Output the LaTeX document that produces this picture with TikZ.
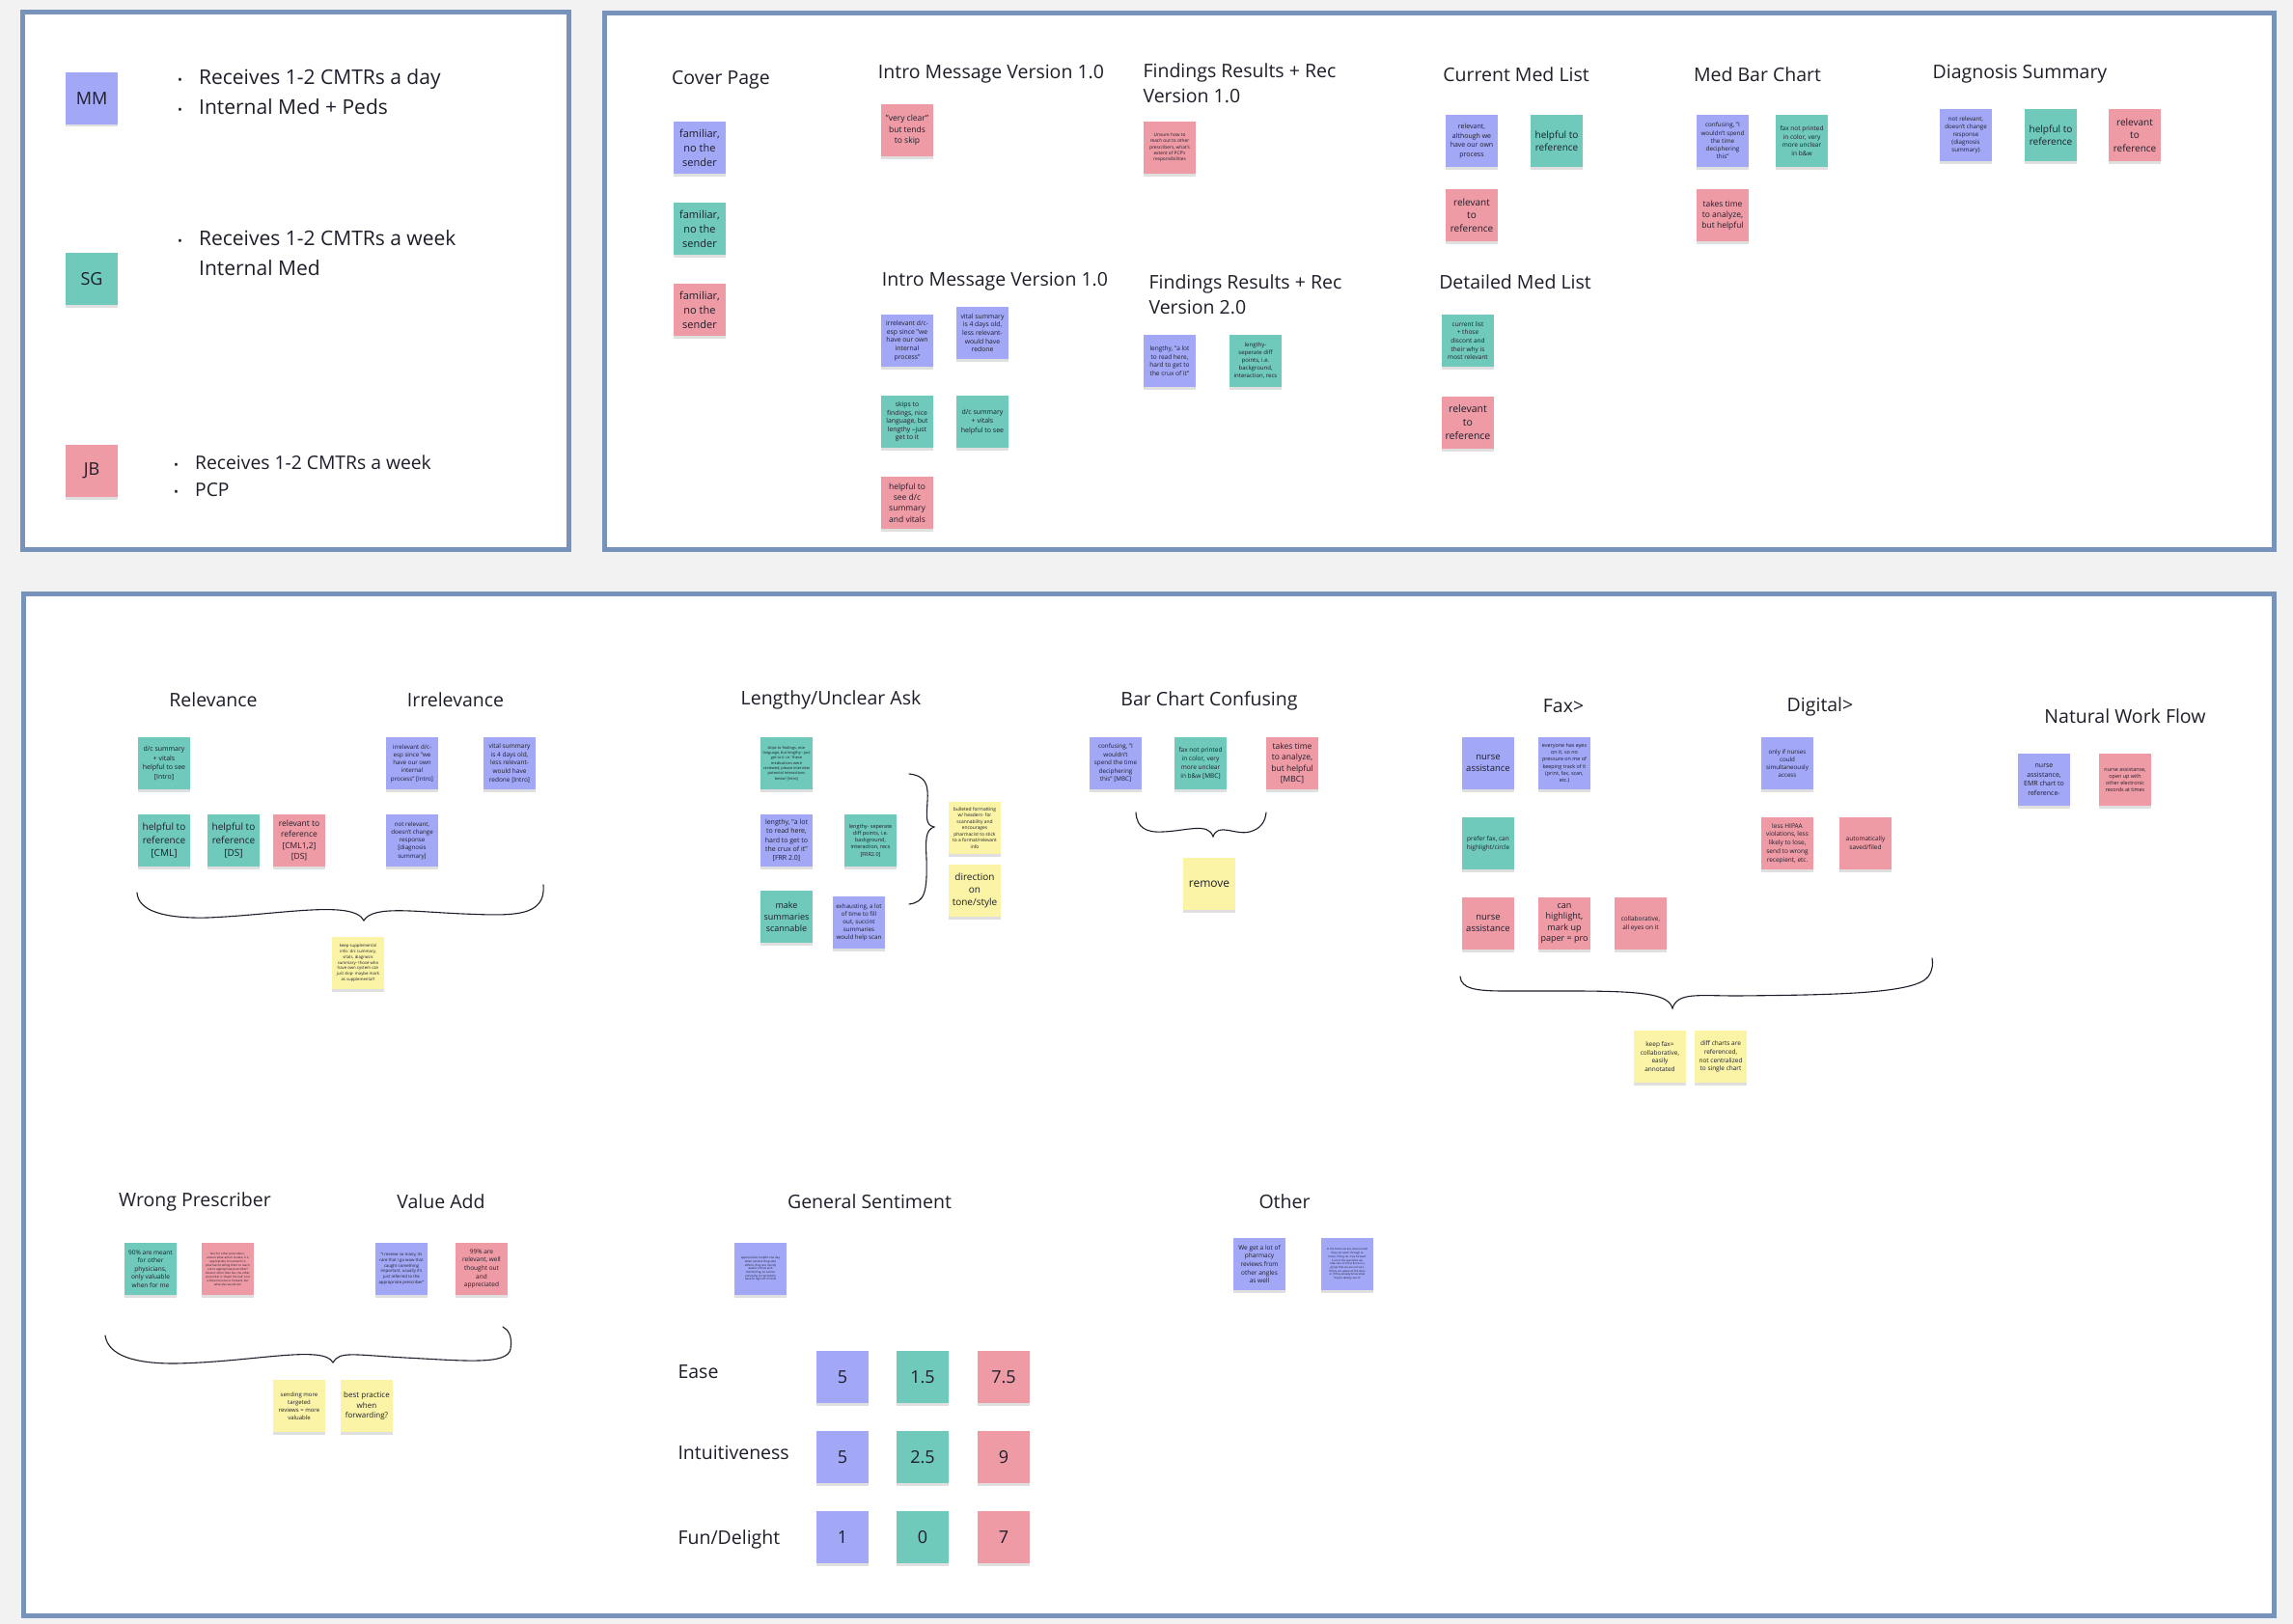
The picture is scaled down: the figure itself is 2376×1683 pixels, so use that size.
\documentclass[tikz,border=0pt]{standalone}
\usepackage{fontspec}
\setmainfont{Open Sans}
\usetikzlibrary{shadows}
\definecolor{fondo}{HTML}{F2F2F2}
\definecolor{panelc}{HTML}{7893BB}
\definecolor{nazulc}{HTML}{A2A8F6}
\definecolor{nverdec}{HTML}{6FCABB}
\definecolor{nrosac}{HTML}{EE9BA6}
\definecolor{namarc}{HTML}{FBF4A7}
\definecolor{tinta}{HTML}{1E1E2A}
\newcommand{\tam}[2]{\fontsize{#1}{#2}\selectfont}
\newcommand{\bul}[1]{\makebox[#1][l]{\tam{13}{13}•}}

\begin{document}
\begin{tikzpicture}[x=1pt, y=-1pt,
  panel/.style={draw=panelc, line width=5pt, fill=white},
  nota/.style={minimum width=54pt, minimum height=54pt, inner sep=1pt, align=center, text=tinta,
    drop shadow={shadow xshift=0pt, shadow yshift=-2.5pt, opacity=.25}},
  azul/.style={nota, fill=nazulc},
  verde/.style={nota, fill=nverdec},
  rosa/.style={nota, fill=nrosac},
  amar/.style={nota, fill=namarc},
  tit/.style={font=\tam{19.5}{26}, text=tinta, align=left},
  lista/.style={font=\tam{21}{30.5}, text=tinta, align=left, inner sep=0pt, anchor=west},
  llave/.style={draw=tinta, line width=1.1pt, line cap=round}]
\useasboundingbox (0,0) rectangle (2376,1683);
\fill[fondo] (0,0) rectangle (2376,1683);

% panels
\draw[panel] (23,13) rectangle (589,569);
\draw[panel] (626,14) rectangle (2356,569);
\draw[panel] (24,615) rectangle (2356,1674);

% participants
\node[azul, font=\tam{18}{22}] (mm) at (95,102) {MM};
\node[verde, font=\tam{18}{22}] (sg) at (95,289) {SG};
\node[rosa, font=\tam{18}{22}] (jb) at (95,488) {JB};
\node[lista] (mmtx) at (184,95) {\bul{22pt}Receives 1-2 CMTRs a day\\\bul{22pt}Internal Med + Peds};
\node[lista] (sgtx) at (184,262) {\bul{22pt}Receives 1-2 CMTRs a week\\\hspace*{22pt}Internal Med};
\node[lista, font=\tam{19.3}{28}] (jbtx) at (180,493) {\bul{22pt}Receives 1-2 CMTRs a week\\\bul{22pt}PCP};

% sections of the report
\node[tit] (tcp) at (747,83) {Cover Page};
\node[tit] (tim1) at (1027,77) {Intro Message Version 1.0};
\node[tit, anchor=west] (tfr1) at (1181,86) {Findings Results + Rec\\Version 1.0};
\node[tit] (tcml) at (1571,77) {Current Med List};
\node[tit] (tmbc) at (1821,77) {Med Bar Chart};
\node[tit] (tds) at (2093,77) {Diagnosis Summary};
\node[tit] (tim2) at (1031,292) {Intro Message Version 1.0};
\node[tit, anchor=west] (tfr2) at (1187,305) {Findings Results + Rec\\Version 2.0};
\node[tit] (tdml) at (1570,292) {Detailed Med List};

\node[azul, font=\tam{11}{15}] (cp1) at (725,153) {familiar,\\no the\\sender};
\node[verde, font=\tam{11}{15}] (cp2) at (725,237) {familiar,\\no the\\sender};
\node[rosa, font=\tam{11}{15}] (cp3) at (725,321) {familiar,\\no the\\sender};
\node[rosa, font=\tam{8.5}{11.5}] (im1a) at (940,135) {"very clear"\\but tends\\to skip};
\node[rosa, font=\tam{4.8}{6.3}] (fr1a) at (1212,153) {Unsure how to\\reach out to other\\prescribers, what's\\extent of PCP's\\responsibilities};
\node[azul, font=\tam{6.8}{8.7}] (im2a) at (940,353) {irrelevant d/c-\\esp since "we\\have our own\\internal\\process"};
\node[azul, font=\tam{6.8}{8.7}] (im2b) at (1018,345) {vital summary\\is 4 days old,\\less relevant-\\would have\\redone};
\node[verde, font=\tam{6.8}{8.6}] (im2c) at (940,437) {skips to\\findings, nice\\language, but\\lengthy --just\\get to it};
\node[verde, font=\tam{7}{9.5}] (im2d) at (1018,437) {d/c summary\\+ vitals\\helpful to see};
\node[rosa, font=\tam{8.5}{11.3}] (im2e) at (940,521) {helpful to\\see d/c\\summary\\and vitals};
\node[azul, font=\tam{6.5}{8.6}] (fr2a) at (1212,374) {lengthy, "a lot\\to read here,\\hard to get to\\the crux of it"};
\node[verde, font=\tam{6}{8}] (fr2b) at (1301,374) {lengthy-\\seperate diff\\points, i.e.\\background,\\interaction, recs};
\node[azul, font=\tam{7}{9.6}] (cml1) at (1525,146) {relevant,\\although we\\have our own\\process};
\node[verde, font=\tam{10}{13.3}] (cml2) at (1613,146) {helpful to\\reference};
\node[rosa, font=\tam{10}{13.3}] (cml3) at (1525,223) {relevant\\to\\reference};
\node[azul, font=\tam{6.3}{8.2}] (mbc1) at (1785,146) {confusing, "I\\wouldn't spend\\the time\\deciphering\\this"};
\node[verde, font=\tam{6.5}{8.6}] (mbc2) at (1867,146) {fax not printed\\in color, very\\more unclear\\in b\&w};
\node[rosa, font=\tam{8.5}{11.2}] (mbc3) at (1785,223) {takes time\\to analyze,\\but helpful};
\node[azul, font=\tam{6.2}{8.1}] (ds1) at (2037,140) {not relevant,\\doesn't change\\response\\(diagnosis\\summary)};
\node[verde, font=\tam{10}{13.3}] (ds2) at (2125,140) {helpful to\\reference};
\node[rosa, font=\tam{10}{13.5}] (ds3) at (2212,140) {relevant\\to\\reference};
\node[verde, font=\tam{6.5}{8.7}] (dml1) at (1521,353) {current list\\+ those\\discont and\\their why is\\most relevant};
\node[rosa, font=\tam{10.5}{14}] (dml2) at (1521,438) {relevant\\to\\reference};

% themes
\node[tit] (trel) at (221,725) {Relevance};
\node[tit] (tirr) at (472,725) {Irrelevance};
\node[tit] (tlen) at (861,725) {Lengthy/Unclear Ask};
\node[tit] (tbar) at (1253,726) {Bar Chart Confusing};
\node[tit] (tfax) at (1620,732) {Fax>};
\node[tit] (tdig) at (1886,732) {Digital>};
\node[tit] (tnat) at (2202,742) {Natural Work Flow};
\node[tit] (twro) at (202,1245) {Wrong Prescriber};
\node[tit] (tval) at (457,1245) {Value Add};
\node[tit] (tgen) at (901,1245) {General Sentiment};
\node[tit] (toth) at (1331,1245) {Other};

\node[verde, font=\tam{7}{9.5}] (rel1) at (170,791) {d/c summary\\+ vitals\\helpful to see\\{}[Intro]};
\node[verde, font=\tam{10}{13.3}] (rel2) at (170,871) {helpful to\\reference\\{}[CML]};
\node[verde, font=\tam{10}{13.3}] (rel3) at (242,871) {helpful to\\reference\\{}[DS]};
\node[rosa, font=\tam{8.5}{11.3}] (rel4) at (310,871) {relevant to\\reference\\{}[CML1,2]\\{}[DS]};
\node[azul, font=\tam{6.2}{8.2}] (irr1) at (427,791) {irrelevant d/c-\\esp since "we\\have our own\\internal\\process" [Intro]};
\node[azul, font=\tam{6.5}{8.7}] (irr2) at (528,791) {vital summary\\is 4 days old,\\less relevant-\\would have\\redone [Intro]};
\node[azul, font=\tam{6.2}{8.2}] (irr3) at (427,871) {not relevant,\\doesn't change\\response\\{}[diagnosis\\summary]};
\node[amar, font=\tam{4.3}{5.8}] (rel5) at (371,998) {keep supplemental\\info: d/c summary,\\vitals, diagnosis\\summary- those who\\have own system can\\just skip- maybe mark\\as supplemental?};
\draw[llave] (142,925) .. controls (143,944) and (170,952) .. (215,951)
  .. controls (290,948) and (366,932) .. (377,954)
  .. controls (386,938) and (430,945) .. (480,947)
  .. controls (530,949) and (566,951) .. (563,917);

\node[verde, font=\tam{3.9}{5.3}] (len1) at (815,791) {skips to findings, nice\\language, but lengthy --just\\get to it i.e. 'these\\medications were\\reviewed, please interview\\potential interactions\\below' [Intro]};
\node[azul, font=\tam{7}{9.2}] (len2) at (815,871) {lengthy, "a lot\\to read here,\\hard to get to\\the crux of it"\\{}[FRR 2.0]};
\node[verde, font=\tam{5.5}{7.2}] (len3) at (902,871) {lengthy- seperate\\diff points, i.e.\\background,\\interaction, recs\\{}[FRR2.0]};
\node[verde, font=\tam{9}{11.7}] (len4) at (815,950) {make\\summaries\\scannable};
\node[azul, font=\tam{6.2}{8.1}] (len5) at (890,956) {exhausting, a lot\\of time to fill\\out, succint\\summaries\\would help scan};
\node[amar, font=\tam{4.9}{6.5}] (len6) at (1010,858) {bulleted formatting\\w/ headers- for\\scannability and\\encourages\\pharmacist to stick\\to a format/relevant\\info};
\node[amar, font=\tam{10}{13.3}] (len7) at (1010,923) {direction\\on\\tone/style};
\draw[llave] (942,802) .. controls (960,804) and (962,814) .. (961,830)
  .. controls (960,848) and (959,855) .. (968,857)
  .. controls (959,860) and (959,870) .. (960,890)
  .. controls (961,925) and (958,935) .. (942,937);

\node[azul, font=\tam{6.3}{8.5}] (bar1) at (1156,791) {confusing, "I\\wouldn't\\spend the time\\deciphering\\this" [MBC]};
\node[verde, font=\tam{6.5}{8.9}] (bar2) at (1244,791) {fax not printed\\in color, very\\more unclear\\in b\&w [MBC]};
\node[rosa, font=\tam{8.5}{11.4}] (bar3) at (1339,791) {takes time\\to analyze,\\but helpful\\{}[MBC]};
\node[amar, font=\tam{12}{15}] (bar4) at (1253,916) {remove};
\draw[llave] (1177,842) .. controls (1178,858) and (1188,863) .. (1205,862)
  .. controls (1230,861) and (1252,852) .. (1257,867)
  .. controls (1262,852) and (1280,866) .. (1295,862)
  .. controls (1306,859) and (1311,852) .. (1312,842);

\node[azul, font=\tam{9.5}{12.7}] (fax1) at (1542,791) {nurse\\assistance};
\node[azul, font=\tam{5.4}{7.3}] (fax2) at (1621,791) {everyone has eyes\\on it, so no\\pressure on me of\\keeping track of it\\(print, fax, scan,\\etc.)};
\node[verde, font=\tam{6.5}{9}] (fax3) at (1542,874) {prefer fax, can\\highlight/circle};
\node[rosa, font=\tam{9.5}{12}] (fax4) at (1542,957) {nurse\\assistance};
\node[rosa, font=\tam{9}{11.4}] (fax5) at (1621,957) {can\\highlight,\\mark up\\paper = pro};
\node[rosa, font=\tam{6.5}{9}] (fax6) at (1700,957) {collaborative,\\all eyes on it};
\node[azul, font=\tam{6.2}{8}] (dig1) at (1852,791) {only if nurses\\could\\simultaneously\\access};
\node[rosa, font=\tam{6.5}{8.8}] (dig2) at (1852,874) {less HIPAA\\violations, less\\likely to lose,\\send to wrong\\recepient, etc.};
\node[rosa, font=\tam{6.5}{9}] (dig3) at (1933,874) {automatically\\saved/filed};
\node[amar, font=\tam{6.5}{8.7}] (fax7) at (1720,1095) {keep fax=\\collaborative,\\easily\\annotated};
\node[amar, font=\tam{6.5}{8.7}] (dig4) at (1783,1095) {diff charts are\\referenced,\\not centralized\\to single chart};
\draw[llave] (1513,1012) .. controls (1514,1025) and (1530,1027) .. (1560,1027)
  .. controls (1680,1027) and (1728,1025) .. (1733,1045)
  .. controls (1738,1028) and (1760,1032) .. (1800,1032)
  .. controls (1900,1031) and (1985,1030) .. (1998,1012)
  .. controls (2003,1005) and (2003,998) .. (2002,993);

\node[azul, font=\tam{7}{9.5}] (nat1) at (2118,808) {nurse\\assistance,\\EMR chart to\\reference-};
\node[rosa, font=\tam{5.4}{7.2}] (nat2) at (2202,808) {nurse assistance,\\open up with\\other electronic\\records at times};

\node[verde, font=\tam{6.5}{8.6}] (wro1) at (156,1315) {90\% are meant\\for other\\physicians,\\only valuable\\when for me};
\node[rosa, font=\tam{3}{4}] (wro2) at (236,1315) {Not for other prescribers,\\unsure what action to take, is it\\appropriate to outreach to\\pharmacist telling them to reach\\out to appropriate prescriber?\\Doesn't often than fax, the other\\prescriber is "down the hall" and\\a little intrusive to forward, but\\what else would do?};
\node[azul, font=\tam{4.3}{5.8}] (val1) at (416,1315) {"I receive so many, its\\rare that I go wow that\\caught something\\important, usually it's\\just referred to the\\appropriate prescriber"};
\node[rosa, font=\tam{6.5}{8.6}] (val2) at (499,1315) {99\% are\\relevant, well\\thought out\\and\\appreciated};
\node[amar, font=\tam{6}{8}] (val3) at (310,1457) {sending more\\targeted\\reviews = more\\valuable};
\node[amar, font=\tam{8}{10.5}] (val4) at (380,1457) {best practice\\when\\forwarding?};
\draw[llave] (109,1384) .. controls (112,1405) and (140,1413) .. (180,1413)
  .. controls (260,1412) and (335,1393) .. (345,1412)
  .. controls (352,1400) and (365,1404) .. (420,1407)
  .. controls (480,1410) and (526,1415) .. (529,1398)
  .. controls (531,1385) and (527,1378) .. (521,1375);

\node[azul, font=\tam{3}{3.7}] (gen1) at (788,1315) {appreciative, helpful one day\\when around drug side\\effects, they are mostly\\aware of that and\\monitoring, so can be\\annoying to constantly\\have to sign off on that};
\node[azul, font=\tam{6.5}{8.7}] (oth1) at (1305,1310) {We get a lot of\\pharmacy\\reviews from\\other angles\\as well};
\node[azul, font=\tam{2.8}{3.7}] (oth2) at (1396,1310) {in the home we are unsure what\\they can reach through at\\times, if they do it we forward\\it on to the specialist, we\\take care of it but there is a\\group that we are not sure\\if they are aware of the issue\\or if they already know what\\they're taking care of};

% ratings
\node[tit, anchor=west] (tease) at (699,1422) {Ease};
\node[tit, anchor=west] (tint) at (699,1505) {Intuitiveness};
\node[tit, anchor=west] (tfun) at (699,1595) {Fun/Delight};
\node[azul, font=\tam{18}{22}] (e1) at (873,1427) {5};
\node[verde, font=\tam{18}{22}] (e2) at (956,1427) {1.5};
\node[rosa, font=\tam{18}{22}] (e3) at (1040,1427) {7.5};
\node[azul, font=\tam{18}{22}] (i1) at (873,1510) {5};
\node[verde, font=\tam{18}{22}] (i2) at (956,1510) {2.5};
\node[rosa, font=\tam{18}{22}] (i3) at (1040,1510) {9};
\node[azul, font=\tam{18}{22}] (f1) at (873,1593) {1};
\node[verde, font=\tam{18}{22}] (f2) at (956,1593) {0};
\node[rosa, font=\tam{18}{22}] (f3) at (1040,1593) {7};
\end{tikzpicture}
\end{document}
